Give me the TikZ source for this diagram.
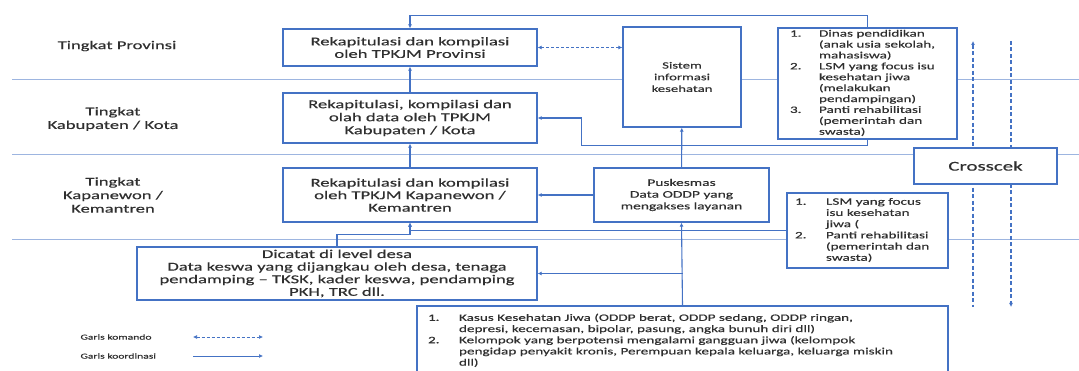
\documentclass[tikz,border=0pt]{standalone}
\usepackage{fontspec}
\setmainfont{Carlito}[FakeStretch=1.55, FakeBold=0.3]
\usepackage{tikz}
\usetikzlibrary{arrows.meta}
\definecolor{boxblue}{HTML}{4472C4}
\definecolor{sepblue}{HTML}{9DB5E0}
\definecolor{txtgray}{HTML}{2F2F2F}
\newcommand{\fsz}[2]{\fontsize{#1}{#2}\selectfont}

\begin{document}
\begin{tikzpicture}[x=1pt, y=-1pt,
    box/.style={draw=boxblue, line width=1.3pt, fill=white, rectangle, inner sep=0pt,
      align=center, text=txtgray},
    lvl/.style={align=center, text=txtgray, font=\fsz{12}{13.5}},
    sep/.style={draw=sepblue, line width=0.9pt},
    link/.style={draw=boxblue, line width=1.1pt, -{Latex[length=4pt,width=4pt]}},
    cmd/.style={draw=boxblue, line width=0.9pt, dash pattern=on 3pt off 2pt,
      {Latex[length=4pt,width=4pt]}-{Latex[length=4pt,width=4pt]}},
    chk/.style={draw=boxblue, line width=1.4pt, dash pattern=on 4pt off 2.5pt}]
    \useasboundingbox (0,0) rectangle (1079,371);
    \clip (0,0) rectangle (1079,371);

    % level separators
    \draw[sep] (12,79) -- (1079,79);
    \draw[sep] (12,154) -- (1079,154);
    \draw[sep] (12,239) -- (1079,239);

    % crosscheck lines
    \coordinate (c1a) at (973,41);  \coordinate (c1b) at (973,307);
    \coordinate (c2a) at (1011,41); \coordinate (c2b) at (1011,307);
    \draw[chk, {Latex[length=4pt,width=4pt]}-] (c1a) -- (c1b);
    \draw[chk, -{Latex[length=4pt,width=4pt]}] (c2a) -- (c2b);

    % level names
    \node[lvl] (lprov) at (117,46) {Tingkat Provinsi};
    \node[lvl] (lkab) at (113,119) {Tingkat\\Kabupaten / Kota};
    \node[lvl] (lkap) at (113,195) {Tingkat\\Kapanewon /\\Kemantren};

    % boxes
    \node[box, minimum width=254pt, minimum height=37pt, font=\fsz{12}{12.5}] (prov) at (410,47.5)
      {Rekapitulasi dan kompilasi\\oleh TPKJM Provinsi};
    \node[box, minimum width=254pt, minimum height=50pt, font=\fsz{12}{13}] (kab) at (410,118)
      {Rekapitulasi, kompilasi dan\\olah data oleh TPKJM\\Kabupaten / Kota};
    \node[box, minimum width=254pt, minimum height=54pt, font=\fsz{12}{12.5}] (kap) at (410,195)
      {Rekapitulasi dan kompilasi\\oleh TPKJM Kapanewon /\\Kemantren};
    \node[box, minimum width=400pt, minimum height=53pt, font=\fsz{12}{12.6}] (desa) at (337,273.5)
      {Dicatat di level desa\\Data keswa yang dijangkau oleh desa, tenaga\\
       pendamping -- TKSK, kader keswa, pendamping\\PKH, TRC dll.};
    \node[box, minimum width=118pt, minimum height=100pt, font=\fsz{9.5}{11.7}] (sik) at (682,77)
      {Sistem\\informasi\\kesehatan};
    \node[box, minimum width=175pt, minimum height=54pt, font=\fsz{10}{11.7}] (pusk) at (681.5,195)
      {Puskesmas\\Data ODDP yang\\mengakses layanan};
    \node[box, minimum width=179pt, minimum height=111pt, font=\fsz{9.8}{10.9}, align=left] (dinas) at (867.5,83.5)
      {\begin{tabular}{@{\hspace{12pt}}p{29pt}@{}p{138pt}@{}}
        1. & Dinas pendidikan\\
           & (anak usia sekolah,\\
           & mahasiswa)\\
        2. & LSM yang focus isu\\
           & kesehatan jiwa\\
           & (melakukan\\
           & pendampingan)\\
        3. & Panti rehabilitasi\\
           & (pemerintah dan\\
           & swasta)
       \end{tabular}};
    \node[box, minimum width=143pt, minimum height=36pt, font=\fsz{13.5}{15}] (cross) at (985.5,166)
      {Crosscek};
    \node[box, minimum width=161pt, minimum height=75pt, font=\fsz{9.8}{11.2}, align=left] (lsm) at (867.5,230.5)
      {\begin{tabular}{@{\hspace{8pt}}p{31pt}@{}p{122pt}@{}}
        1. & LSM yang focus\\
           & isu kesehatan\\
           & jiwa (\\
        2. & Panti rehabilitasi\\
           & (pemerintah dan\\
           & swasta)
       \end{tabular}};
    \node[box, minimum width=531pt, minimum height=70pt, font=\fsz{9.8}{11.2}, align=left] (kasus) at (682.5,341)
      {\begin{tabular}{@{\hspace{11pt}}p{31pt}@{}p{489pt}@{}}
        1. & Kasus Kesehatan Jiwa (ODDP berat, ODDP sedang, ODDP ringan,\\
           & depresi, kecemasan, bipolar, pasung, angka bunuh diri dll)\\
        2. & Kelompok yang berpotensi mengalami gangguan jiwa (kelompok\\
           & pengidap penyakit kronis, Perempuan kepala keluarga, keluarga miskin\\
           & dll)
       \end{tabular}};

    % connectors
    \draw[link] (kab) -- (prov);
    \draw[link] (kap) -- (kab);
    \draw[cmd] (prov.east) -- (prov.east -| sik.west);
    \draw[link] (dinas.north) -- ++(0,-12) -| (prov.north);
    \draw[link] (dinas.south) -- ++(0,6) -| ++(-286,0) |- (kab.east);
    \draw[link] (pusk) -- (sik);
    \draw[link] (pusk) -- (kap);
    \draw[link] (lsm.west) -| (kap.south);
    \draw[link] (desa.north) |- ([yshift=-12pt]kap.south) -- (kap.south);
    \draw[link] (kasus.north) -- (pusk.south);
    \draw[link] (kasus.north |- desa.east) -- (desa.east);

    % legend
    \node[anchor=west, text=txtgray, font=\fsz{7.5}{9}] (gkom) at (77,337) {Garis komando};
    \node[anchor=west, text=txtgray, font=\fsz{7.5}{9}] (gkoo) at (77,356) {Garis koordinasi};
    \coordinate (ka) at (193,337); \coordinate (kb) at (263,337);
    \coordinate (kc) at (193,356); \coordinate (kd) at (263,356);
    \draw[cmd, line width=0.7pt] (ka) -- (kb);
    \draw[link, line width=0.7pt] (kc) -- (kd);
\end{tikzpicture}
\end{document}
